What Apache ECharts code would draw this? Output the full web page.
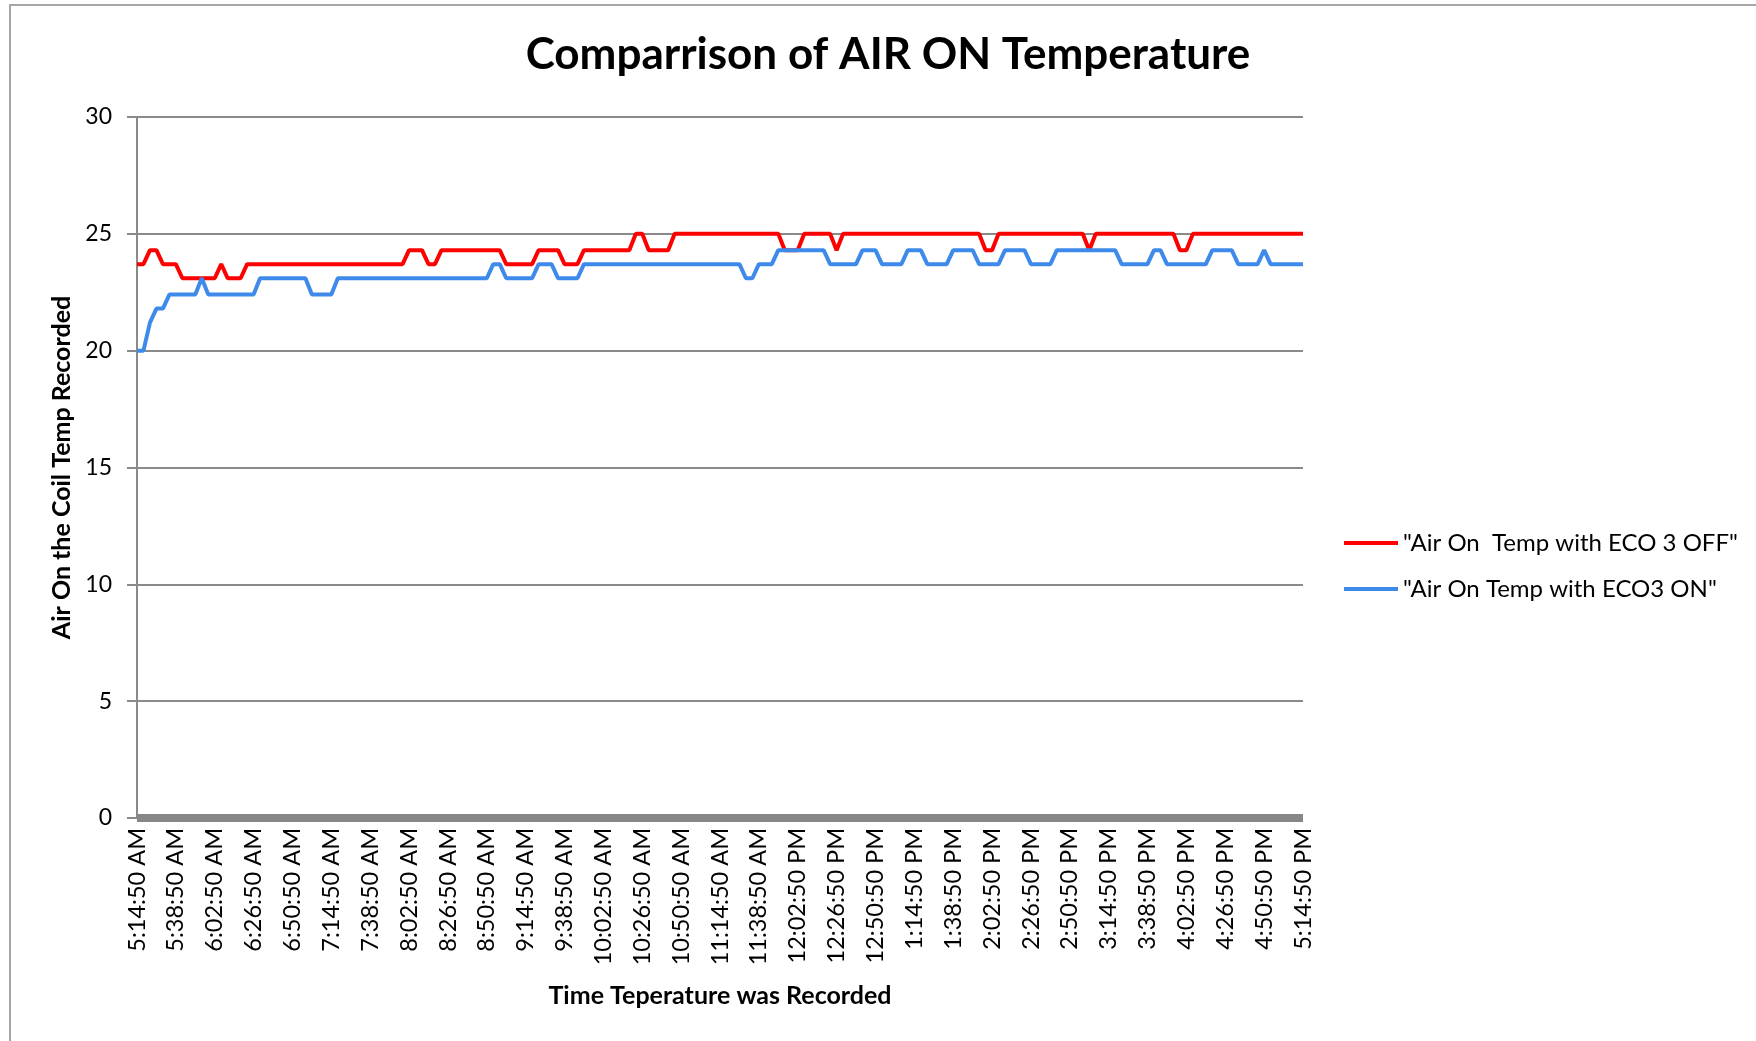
<!DOCTYPE html>
<html>
<head>
<meta charset="utf-8">
<script src="https://cdn.jsdelivr.net/npm/echarts@6/dist/echarts.min.js"></script>
<style>
html,body{margin:0;padding:0;background:#fff;}
#chart{width:1756px;height:1041px;}
</style>
</head>
<body>
<div id="chart"></div>
<script>
// Time stamps (every 4 minutes)
const times = [
"5:14:50 AM","5:18:50 AM","5:22:50 AM","5:26:50 AM","5:30:50 AM","5:34:50 AM","5:38:50 AM","5:42:50 AM","5:46:50 AM","5:50:50 AM","5:54:50 AM","5:58:50 AM",
"6:02:50 AM","6:06:50 AM","6:10:50 AM","6:14:50 AM","6:18:50 AM","6:22:50 AM","6:26:50 AM","6:30:50 AM","6:34:50 AM","6:38:50 AM","6:42:50 AM","6:46:50 AM","6:50:50 AM","6:54:50 AM","6:58:50 AM",
"7:02:50 AM","7:06:50 AM","7:10:50 AM","7:14:50 AM","7:18:50 AM","7:22:50 AM","7:26:50 AM","7:30:50 AM","7:34:50 AM","7:38:50 AM","7:42:50 AM","7:46:50 AM","7:50:50 AM","7:54:50 AM","7:58:50 AM",
"8:02:50 AM","8:06:50 AM","8:10:50 AM","8:14:50 AM","8:18:50 AM","8:22:50 AM","8:26:50 AM","8:30:50 AM","8:34:50 AM","8:38:50 AM","8:42:50 AM","8:46:50 AM","8:50:50 AM","8:54:50 AM","8:58:50 AM",
"9:02:50 AM","9:06:50 AM","9:10:50 AM","9:14:50 AM","9:18:50 AM","9:22:50 AM","9:26:50 AM","9:30:50 AM","9:34:50 AM","9:38:50 AM","9:42:50 AM","9:46:50 AM","9:50:50 AM","9:54:50 AM","9:58:50 AM",
"10:02:50 AM","10:06:50 AM","10:10:50 AM","10:14:50 AM","10:18:50 AM","10:22:50 AM","10:26:50 AM","10:30:50 AM","10:34:50 AM","10:38:50 AM","10:42:50 AM","10:46:50 AM","10:50:50 AM","10:54:50 AM","10:58:50 AM",
"11:02:50 AM","11:06:50 AM","11:10:50 AM","11:14:50 AM","11:18:50 AM","11:22:50 AM","11:26:50 AM","11:30:50 AM","11:34:50 AM","11:38:50 AM","11:42:50 AM","11:46:50 AM","11:50:50 AM","11:54:50 AM","11:58:50 AM",
"12:02:50 PM","12:06:50 PM","12:10:50 PM","12:14:50 PM","12:18:50 PM","12:22:50 PM","12:26:50 PM","12:30:50 PM","12:34:50 PM","12:38:50 PM","12:42:50 PM","12:46:50 PM","12:50:50 PM","12:54:50 PM","12:58:50 PM",
"1:02:50 PM","1:06:50 PM","1:10:50 PM","1:14:50 PM","1:18:50 PM","1:22:50 PM","1:26:50 PM","1:30:50 PM","1:34:50 PM","1:38:50 PM","1:42:50 PM","1:46:50 PM","1:50:50 PM","1:54:50 PM","1:58:50 PM",
"2:02:50 PM","2:06:50 PM","2:10:50 PM","2:14:50 PM","2:18:50 PM","2:22:50 PM","2:26:50 PM","2:30:50 PM","2:34:50 PM","2:38:50 PM","2:42:50 PM","2:46:50 PM","2:50:50 PM","2:54:50 PM","2:58:50 PM",
"3:02:50 PM","3:06:50 PM","3:10:50 PM","3:14:50 PM","3:18:50 PM","3:22:50 PM","3:26:50 PM","3:30:50 PM","3:34:50 PM","3:38:50 PM","3:42:50 PM","3:46:50 PM","3:50:50 PM","3:54:50 PM","3:58:50 PM",
"4:02:50 PM","4:06:50 PM","4:10:50 PM","4:14:50 PM","4:18:50 PM","4:22:50 PM","4:26:50 PM","4:30:50 PM","4:34:50 PM","4:38:50 PM","4:42:50 PM","4:46:50 PM","4:50:50 PM","4:54:50 PM","4:58:50 PM",
"5:02:50 PM","5:06:50 PM","5:10:50 PM","5:14:50 PM"
];

// "Air On  Temp with ECO 3 OFF"
const ecoOff = [
23.7,23.7,24.3,24.3,23.7,23.7,23.7,23.1,23.1,23.1,
23.1,23.1,23.1,23.7,23.1,23.1,23.1,23.7,23.7,23.7,
23.7,23.7,23.7,23.7,23.7,23.7,23.7,23.7,23.7,23.7,
23.7,23.7,23.7,23.7,23.7,23.7,23.7,23.7,23.7,23.7,
23.7,23.7,24.3,24.3,24.3,23.7,23.7,24.3,24.3,24.3,
24.3,24.3,24.3,24.3,24.3,24.3,24.3,23.7,23.7,23.7,
23.7,23.7,24.3,24.3,24.3,24.3,23.7,23.7,23.7,24.3,
24.3,24.3,24.3,24.3,24.3,24.3,24.3,25,25,24.3,
24.3,24.3,24.3,25,25,25,25,25,25,25,
25,25,25,25,25,25,25,25,25,25,
24.3,24.3,24.3,25,25,25,25,25,24.3,25,
25,25,25,25,25,25,25,25,25,25,
25,25,25,25,25,25,25,25,25,25,
25,24.3,24.3,25,25,25,25,25,25,25,
25,25,25,25,25,25,25,24.3,25,25,
25,25,25,25,25,25,25,25,25,25,
25,24.3,24.3,25,25,25,25,25,25,25,
25,25,25,25,25,25,25,25,25,25,
25
];

// "Air On Temp with ECO3 ON"
const ecoOn = [
20,20,21.2,21.8,21.8,22.4,22.4,22.4,22.4,22.4,
23.1,22.4,22.4,22.4,22.4,22.4,22.4,22.4,22.4,23.1,
23.1,23.1,23.1,23.1,23.1,23.1,23.1,22.4,22.4,22.4,
22.4,23.1,23.1,23.1,23.1,23.1,23.1,23.1,23.1,23.1,
23.1,23.1,23.1,23.1,23.1,23.1,23.1,23.1,23.1,23.1,
23.1,23.1,23.1,23.1,23.1,23.7,23.7,23.1,23.1,23.1,
23.1,23.1,23.7,23.7,23.7,23.1,23.1,23.1,23.1,23.7,
23.7,23.7,23.7,23.7,23.7,23.7,23.7,23.7,23.7,23.7,
23.7,23.7,23.7,23.7,23.7,23.7,23.7,23.7,23.7,23.7,
23.7,23.7,23.7,23.7,23.1,23.1,23.7,23.7,23.7,24.3,
24.3,24.3,24.3,24.3,24.3,24.3,24.3,23.7,23.7,23.7,
23.7,23.7,24.3,24.3,24.3,23.7,23.7,23.7,23.7,24.3,
24.3,24.3,23.7,23.7,23.7,23.7,24.3,24.3,24.3,24.3,
23.7,23.7,23.7,23.7,24.3,24.3,24.3,24.3,23.7,23.7,
23.7,23.7,24.3,24.3,24.3,24.3,24.3,24.3,24.3,24.3,
24.3,24.3,23.7,23.7,23.7,23.7,23.7,24.3,24.3,23.7,
23.7,23.7,23.7,23.7,23.7,23.7,24.3,24.3,24.3,24.3,
23.7,23.7,23.7,23.7,24.3,23.7,23.7,23.7,23.7,23.7,
23.7
];

const seriesNames = ['"Air On  Temp with ECO 3 OFF"', '"Air On Temp with ECO3 ON"'];
const yTicks = { min: 0, max: 30, interval: 5 };

const FONT = 'Lato, "Open Sans", sans-serif';
const GRID_COLOR = '#8a8a8a';

const chart = echarts.init(document.getElementById('chart'), null, { renderer: 'canvas' });
chart.setOption({
  animation: false,
  backgroundColor: '#ffffff',
  textStyle: { fontFamily: FONT },
  graphic: [{
    type: 'rect',
    shape: { x: 10, y: 5, width: 1800, height: 1100 },
    style: { fill: 'none', stroke: '#a6a6a6', lineWidth: 2 },
    silent: true
  }],
  title: {
    text: 'Comparrison of AIR ON Temperature',
    left: 888,
    top: 33,
    textAlign: 'center',
    padding: 0,
    textStyle: { fontFamily: FONT, fontWeight: 'bold', fontSize: 44, color: '#000' }
  },
  legend: {
    orient: 'vertical',
    left: 1344,
    top: 531,
    padding: 0,
    itemGap: 22,
    itemWidth: 54,
    itemHeight: 4,
    icon: 'rect',
    textStyle: { fontFamily: FONT, fontSize: 24, color: '#000' },
    data: seriesNames
  },
  grid: { left: 137, top: 117, width: 1166, height: 701, containLabel: false },
  xAxis: {
    type: 'category',
    data: times,
    boundaryGap: false,
    offset: 4,
    axisLine: { show: true, lineStyle: { color: '#878787', width: 8, cap: 'butt' } },
    axisTick: { show: false },
    axisLabel: {
      interval: 5,
      rotate: 90,
      margin: 6,
      fontFamily: FONT,
      fontSize: 23.5,
      color: '#000'
    },
    splitLine: { show: false },
    name: 'Time Teperature was Recorded',
    nameLocation: 'middle',
    nameGap: 161,
    nameTextStyle: { fontFamily: FONT, fontWeight: 'bold', fontSize: 25, color: '#000' }
  },
  yAxis: {
    type: 'value',
    min: yTicks.min,
    max: yTicks.max,
    interval: yTicks.interval,
    axisLine: { show: true, lineStyle: { color: GRID_COLOR, width: 2 } },
    axisTick: { show: true, length: 10, lineStyle: { color: GRID_COLOR, width: 2 } },
    axisLabel: { margin: 25, fontFamily: FONT, fontSize: 23, color: '#000' },
    splitLine: { show: true, lineStyle: { color: GRID_COLOR, width: 2 } },
    name: 'Air On the Coil Temp Recorded',
    nameLocation: 'middle',
    nameGap: 62,
    nameTextStyle: { fontFamily: FONT, fontWeight: 'bold', fontSize: 25, color: '#000' }
  },
  series: [
    {
      name: seriesNames[0],
      type: 'line',
      data: ecoOff,
      showSymbol: false,
      symbol: 'none',
      lineStyle: { color: '#ff0000', width: 4 },
      itemStyle: { color: '#ff0000' }
    },
    {
      name: seriesNames[1],
      type: 'line',
      data: ecoOn,
      showSymbol: false,
      symbol: 'none',
      lineStyle: { color: '#3e8aeb', width: 4 },
      itemStyle: { color: '#3e8aeb' }
    }
  ]
});
</script>
</body>
</html>
